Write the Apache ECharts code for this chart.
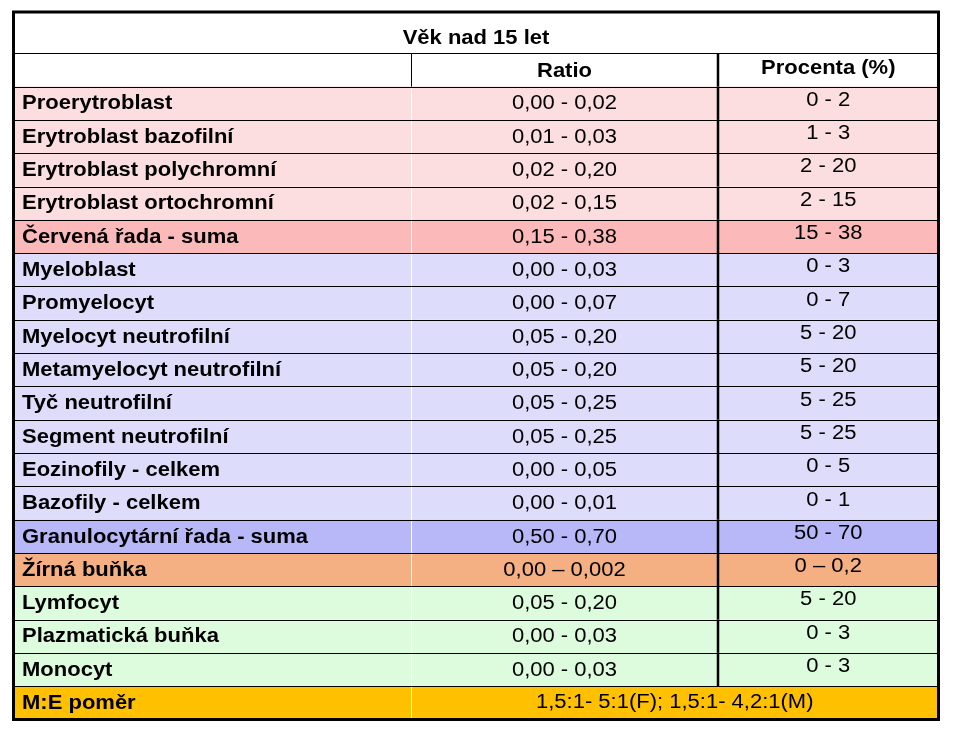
<!DOCTYPE html>
<html>
<head>
<meta charset="utf-8">
<script src="https://cdn.jsdelivr.net/npm/echarts@6/dist/echarts.min.js"></script>
<style>html,body{margin:0;padding:0;background:#fff}#c{width:957px;height:735px}</style>
</head>
<body>
<div id="c"></div>
<script>
const titleText = 'Věk nad 15 let';
const headers = ['', 'Ratio', 'Procenta (%)'];
const categories = ['Proerytroblast','Erytroblast bazofilní','Erytroblast polychromní','Erytroblast ortochromní','Červená řada - suma','Myeloblast','Promyelocyt','Myelocyt neutrofilní','Metamyelocyt neutrofilní','Tyč neutrofilní','Segment neutrofilní','Eozinofily - celkem','Bazofily - celkem','Granulocytární řada - suma','Žírná buňka','Lymfocyt','Plazmatická buňka','Monocyt','M:E poměr'];
const ratios = ['0,00 - 0,02','0,01 - 0,03','0,02 - 0,20','0,02 - 0,15','0,15 - 0,38','0,00 - 0,03','0,00 - 0,07','0,05 - 0,20','0,05 - 0,20','0,05 - 0,25','0,05 - 0,25','0,00 - 0,05','0,00 - 0,01','0,50 - 0,70','0,00 – 0,002','0,05 - 0,20','0,00 - 0,03','0,00 - 0,03','1,5:1- 5:1(F); 1,5:1- 4,2:1(M)'];
const percents = ['0 - 2','1 - 3','2 - 20','2 - 15','15 - 38','0 - 3','0 - 7','5 - 20','5 - 20','5 - 25','5 - 25','0 - 5','0 - 1','50 - 70','0 – 0,2','5 - 20','0 - 3','0 - 3', null];
const groups = ['ery','ery','ery','ery','erySum','gran','gran','gran','gran','gran','gran','gran','gran','granSum','mast','lymph','lymph','lymph','me'];

const groupColors = { ery:'#FCDDE0', erySum:'#FBB9B9', gran:'#DDDDFB', granSum:'#B8B7F8', mast:'#F4AF83', lymph:'#DDFCDE', me:'#FFC000' };
const COL = [0, 397.5, 704.5, 925];
const TITLE_TOP = -0.24;
const NROWS = 2 + categories.length; // title, header, data
const FONT = '"Liberation Sans", Arial, sans-serif';
const SX = 1.1;

function txt(x, y, text, bold, align) {
  return {
    type: 'text', x: x, y: y, scaleX: SX, z2: 30,
    style: {
      text: text, x: 0, y: 0, fill: '#000',
      fontSize: 20, fontWeight: bold ? 'bold' : 'normal', fontFamily: FONT,
      align: align, verticalAlign: 'middle', textAlign: align, textVerticalAlign: 'middle'
    }
  };
}
function rect(x0, y0, x1, y1, fill) {
  return { type: 'rect', z2: 1, shape: { x: x0, y: y0, width: x1 - x0, height: y1 - y0 }, style: { fill: fill } };
}
function line(x0, y0, x1, y1, color, w, z) {
  return { type: 'line', z2: z || 10, shape: { x1: x0, y1: y0, x2: x1, y2: y1 }, style: { stroke: color, lineWidth: w } };
}
const px = v => Math.round(v) + 0.5;

const rowsData = [];
for (let r = 0; r < NROWS; r++) rowsData.push([r]);

function renderItem(params, api) {
  const r = api.value(0);
  const top = r === 0 ? TITLE_TOP : r;
  const p0 = api.coord([COL[0], top]);
  const p1 = api.coord([COL[3], r + 1]);
  const xs = COL.map(c => api.coord([c, 0])[0]);
  const y0 = p0[1], y1 = p1[1];
  const cy = api.coord([0, r + 0.5])[1];
  const children = [];
  if (r === 0) {
    children.push(rect(xs[0], y0, xs[3], y1, '#fff'));
    children.push(txt((xs[0] + xs[3]) / 2, cy + 2, titleText, true, 'center'));
    const b = api.coord([COL[3], NROWS]);
    children.push({ type: 'rect', z2: 40, shape: { x: xs[0], y: y0, width: xs[3] - xs[0], height: b[1] - y0 }, style: { fill: null, stroke: '#000', lineWidth: 3 } });
  } else if (r === 1) {
    children.push(rect(xs[0], y0, xs[3], y1, '#fff'));
    children.push(line(px(xs[1]), y0, px(xs[1]), y1, '#000', 1));
    children.push(txt((xs[1] + xs[2]) / 2, cy + 2, headers[1], true, 'center'));
    children.push(txt((xs[2] + xs[3]) / 2, cy - 1.5, headers[2], true, 'center'));
    children.push(line(xs[0], px(y0), xs[3], px(y0), '#000', 1));
  } else {
    const i = r - 2;
    const fill = groupColors[groups[i]];
    children.push(rect(xs[0], y0, xs[3], y1, fill));
    children.push(line(px(xs[1]), y0, px(xs[1]), y1, '#fff', 1, 5));
    children.push(line(xs[0], px(y0), xs[3], px(y0), '#000', 1));
    children.push(txt(xs[0] + 8.5, cy + 0.7, categories[i], true, 'left'));
    if (percents[i] === null) {
      children.push(txt((xs[1] + xs[3]) / 2, cy, ratios[i], false, 'center'));
    } else {
      children.push(txt((xs[1] + xs[2]) / 2, cy + 0.7, ratios[i], false, 'center'));
      children.push(txt((xs[2] + xs[3]) / 2, cy - 3, percents[i], false, 'center'));
    }
  }
  if (r >= 1 && (r < 2 || percents[r - 2] !== null)) {
    children.push(line(xs[2], y0, xs[2], y1, '#000', 2.5, 20));
  }
  return { type: 'group', children: children };
}

const chart = echarts.init(document.getElementById('c'), null, { renderer: 'canvas' });
chart.setOption({
  backgroundColor: '#fff',
  animation: false,
  grid: { left: 13.5, top: 12, width: 925, height: 707.5, containLabel: false, show: false },
  xAxis: { type: 'value', min: 0, max: COL[3], show: false },
  yAxis: { type: 'value', min: TITLE_TOP, max: NROWS, inverse: true, show: false },
  series: [{
    type: 'custom',
    renderItem: renderItem,
    data: rowsData,
    clip: false,
    silent: true
  }]
});
</script>
</body>
</html>
